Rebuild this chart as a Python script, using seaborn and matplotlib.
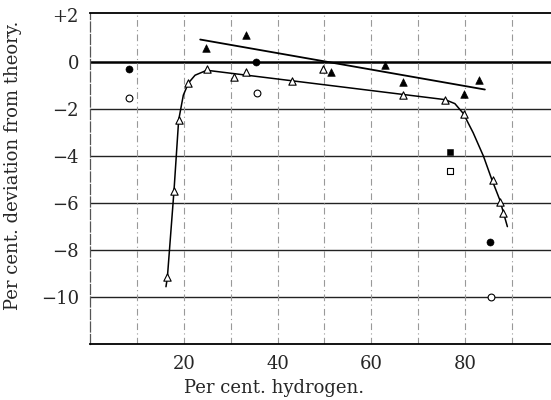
import seaborn as sns
import matplotlib.pyplot as plt
import pandas as pd
import numpy as np

# values
open_tri_x = [16.5, 17.9, 18.9, 21.0, 24.9, 30.8, 33.3, 43.1, 49.7, 66.8, 75.8, 79.8, 85.9, 87.4, 88.1]
open_tri_y = [-9.16, -5.5, -2.47, -0.88, -0.30, -0.62, -0.41, -0.79, -0.27, -1.40, -1.59, -2.21, -5.02, -5.94, -6.40]

filled_tri_x = [24.7, 33.3, 51.4, 62.9, 66.7, 79.8, 82.9]
filled_tri_y = [0.63, 1.18, -0.41, -0.10, -0.84, -1.33, -0.74]

filled_circ_x = [8.4, 35.5, 85.3]
filled_circ_y = [-0.30, 0.0, -7.67]
open_circ_x = [8.4, 35.6, 85.4]
open_circ_y = [-1.52, -1.30, -9.99]

filled_sq_x = [76.7]
filled_sq_y = [-3.82]
open_sq_x = [76.8]
open_sq_y = [-4.64]

# hand-drawn curve through the open triangles
curve_x = [16.2, 16.5, 17.9, 18.9, 19.3, 19.9, 21.0, 22.4, 24.9, 75.7, 77.8, 79.6, 81.7, 83.9, 85.6, 87.4, 89.0]
curve_y = [-9.56, -9.16, -5.5, -2.47, -2.04, -1.40, -0.88, -0.55, -0.34, -1.59, -1.76, -2.18, -3.0, -4.0, -4.95, -5.87, -7.0]

# straight line through the filled triangles
line_x = [23.5, 84.2]
line_y = [0.97, -1.16]

y_ticks = [2, 0, -2, -4, -6, -8, -10]
y_tick_labels = ["+2", "0", "\u22122", "\u22124", "\u22126", "\u22128", "\u221210"]
x_ticks = [20, 40, 60, 80]

sns.set_style("white")
plt.rcParams["font.family"] = ["DejaVu Serif"]

fig = plt.figure(figsize=(5.51, 4.0), dpi=100)
ax = fig.add_axes([90 / 551, 56 / 400, 461 / 551, 331 / 400])

# grid
for v in [-10, -8, -6, -4, -2]:
    ax.axhline(v, color="#222222", lw=1.0, zorder=1)
ax.axhline(0, color="black", lw=1.8, zorder=1)
for v in range(10, 100, 10):
    ax.axvline(v, color="#999999", lw=0.8, ls=(0, (6, 3, 1, 3)), zorder=1)

sns.lineplot(x=curve_x, y=curve_y, sort=False, estimator=None, color="black", lw=1.1, ax=ax, zorder=2)
sns.lineplot(x=line_x, y=line_y, sort=False, estimator=None, color="black", lw=1.3, ax=ax, zorder=2)

sns.scatterplot(x=open_tri_x, y=open_tri_y, marker="^", s=28, facecolor="white", edgecolor="black", linewidth=0.8, ax=ax, zorder=3)
sns.scatterplot(x=filled_tri_x, y=filled_tri_y, marker="^", s=30, color="black", edgecolor="black", ax=ax, zorder=3)
sns.scatterplot(x=filled_circ_x, y=filled_circ_y, marker="o", s=26, color="black", edgecolor="black", ax=ax, zorder=3)
sns.scatterplot(x=open_circ_x, y=open_circ_y, marker="o", s=24, facecolor="white", edgecolor="black", linewidth=0.8, ax=ax, zorder=3)
sns.scatterplot(x=filled_sq_x, y=filled_sq_y, marker="s", s=24, color="black", edgecolor="black", ax=ax, zorder=3)
sns.scatterplot(x=open_sq_x, y=open_sq_y, marker="s", s=22, facecolor="white", edgecolor="black", linewidth=0.8, ax=ax, zorder=3)

ax.set_xlim(0, 98.3)
ax.set_ylim(-12, 2.1)
ax.set_yticks(y_ticks)
ax.set_yticklabels(y_tick_labels)
ax.set_xticks(x_ticks)
ax.tick_params(axis="both", labelsize=13, length=0, pad=8)

for s in ["top", "bottom"]:
    ax.spines[s].set_color("black")
    ax.spines[s].set_linewidth(1.3)
ax.spines["right"].set_visible(False)
ax.spines["left"].set_color("#555555")
ax.spines["left"].set_linewidth(0.9)
ax.spines["left"].set_linestyle((0, (8, 2)))

ax.set_xlabel("Per cent. hydrogen.", fontsize=13, labelpad=2)
ax.xaxis.set_label_coords(0.40, -0.105)
ax.set_ylabel("Per cent. deviation from theory.", fontsize=13)
ax.yaxis.set_label_coords(-0.148, 0.54)

plt.savefig("out.png", dpi=100)
plt.close()
